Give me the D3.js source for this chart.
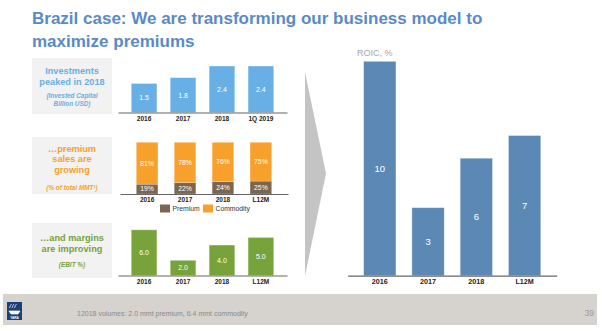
<!DOCTYPE html>
<html>
<head>
<meta charset="utf-8">
<script src="https://cdn.jsdelivr.net/npm/d3@7"></script>
<style>
  body { margin: 0; background: #fff; }
  svg { display: block; font-family: "Liberation Sans", Arial, sans-serif; }
</style>
</head>
<body>
<div id="chart"></div>
<script>
// data
const investYears = ["2016", "2017", "2018", "1Q 2019"];
const investValues = [1.5, 1.8, 2.4, 2.4];

const salesYears = ["2016", "2017", "2018", "L12M"];
const premiumShare = [19, 22, 24, 25];
const commodityShare = [81, 78, 76, 75];

const ebitYears = ["2016", "2017", "2018", "L12M"];
const ebitValues = [6.0, 2.0, 4.0, 5.0];

const roicYears = ["2016", "2017", "2018", "L12M"];
const roicValues = [10.4, 3.3, 5.7, 6.8];

const blue = "#67afe5", orange = "#f8a02c", brown = "#7b6751",
      green = "#77a33a", steel = "#5b88b4", titleBlue = "#5a8ac6";

var svg = d3.select("#chart").append("svg")
    .attr("width", 602)
    .attr("height", 331);

// title
var title = svg.append("text")
    .attr("x", 32)
    .attr("font-size", 17)
    .attr("font-weight", "bold")
    .attr("fill", titleBlue);
title.append("tspan").attr("x", 32).attr("y", 24)
    .text("Brazil case: We are transforming our business model to");
title.append("tspan").attr("x", 32).attr("y", 47)
    .text("maximize premiums");

// grey side boxes with the messages
function sideBox(y0, y1, color, lines, notes, lineYs, noteYs) {
    svg.append("rect")
        .attr("x", 32).attr("y", y0)
        .attr("width", 80).attr("height", y1 - y0)
        .attr("fill", "#f2f2f2");
    lines.forEach(function (t, i) {
        svg.append("text")
            .attr("x", 72).attr("y", lineYs[i])
            .attr("text-anchor", "middle")
            .attr("font-size", 9.2)
            .attr("font-weight", "bold")
            .attr("fill", color)
            .text(t);
    });
    notes.forEach(function (t, i) {
        svg.append("text")
            .attr("x", 72).attr("y", noteYs[i])
            .attr("text-anchor", "middle")
            .attr("font-size", 6.4)
            .attr("font-weight", "bold")
            .attr("font-style", "italic")
            .attr("fill", color)
            .text(t);
    });
}

sideBox(58, 114, blue, ["Investments", "peaked in 2018"],
    ["(Invested Capital", "Billion USD)"], [73.5, 84.5], [98, 105.6]);
sideBox(137, 194, orange, ["\u2026premium", "sales are", "growing"],
    ["(% of total MMT\u00b9)"], [151.5, 162.2, 172.6], [190]);
sideBox(223, 278, green, ["\u2026and margins", "are improving"],
    ["(EBIT %)"], [240.5, 251.9], [267.3]);

function drawAxis(g, x, baseY, fontSize) {
    var ax = g.append("g")
        .attr("transform", "translate(0," + baseY + ")")
        .call(d3.axisBottom(x).tickSize(0).tickSizeOuter(0).tickPadding(3.5));
    ax.select(".domain").attr("stroke", "#666").attr("stroke-width", 1.2);
    ax.selectAll("text")
        .attr("font-family", "Liberation Sans, Arial, sans-serif")
        .attr("font-size", fontSize)
        .attr("font-weight", "bold")
        .attr("fill", "#222");
}

function simpleBars(cats, vals, color, xr, yr, yMax, pad, fmt, fontSize) {
    var x = d3.scaleBand().domain(cats).range(xr).padding(pad);
    var y = d3.scaleLinear().domain([0, yMax]).range(yr);
    var g = svg.append("g");
    g.selectAll("rect.bar")
        .data(vals)
        .enter()
        .append("rect")
        .attr("class", "bar")
        .attr("x", (d, i) => x(cats[i]))
        .attr("y", d => y(d))
        .attr("width", x.bandwidth())
        .attr("height", d => y(0) - y(d))
        .attr("fill", color)
        .attr("stroke", "#fff")
        .attr("stroke-opacity", 0.45)
        .attr("stroke-width", 0.8);
    g.selectAll("text.val")
        .data(vals)
        .enter()
        .append("text")
        .attr("class", "val")
        .attr("x", (d, i) => x(cats[i]) + x.bandwidth() / 2)
        .attr("y", d => (y(d) + y(0)) / 2)
        .attr("dy", "0.35em")
        .attr("text-anchor", "middle")
        .attr("font-size", fontSize)
        .attr("fill", "#fff")
        .text(fmt);
    return {g: g, x: x, y: y};
}

// panel 1: invested capital
var p1 = simpleBars(investYears, investValues, blue, [118, 287], [112.5, 66], 2.4, 0.34,
    d => d.toFixed(1), 7);
drawAxis(p1.g, p1.x, 112.5, 6.5);

// panel 2: premium vs commodity share
{
    var x = d3.scaleBand().domain(salesYears).range([120, 288]).padding(0.43);
    var y = d3.scaleLinear().domain([0, 100]).range([194, 142.3]);
    var rows = salesYears.map((c, i) => ({cat: c, premium: premiumShare[i], commodity: commodityShare[i]}));
    var stack = d3.stack().keys(["premium", "commodity"])(rows);
    var colors = {premium: brown, commodity: orange};
    var g = svg.append("g");
    stack.forEach(function (layer) {
        g.selectAll("rect." + layer.key)
            .data(layer)
            .enter()
            .append("rect")
            .attr("x", d => x(d.data.cat))
            .attr("y", d => y(d[1]))
            .attr("width", x.bandwidth())
            .attr("height", d => y(d[0]) - y(d[1]))
            .attr("fill", colors[layer.key])
            .attr("stroke", "#fff")
            .attr("stroke-opacity", 0.35)
            .attr("stroke-width", 0.6);
        g.selectAll("text." + layer.key)
            .data(layer)
            .enter()
            .append("text")
            .attr("x", d => x(d.data.cat) + x.bandwidth() / 2)
            .attr("y", d => (y(d[0]) + y(d[1])) / 2)
            .attr("dy", "0.35em")
            .attr("text-anchor", "middle")
            .attr("font-size", 6.8)
            .attr("fill", "#fff")
            .text(d => d.data[layer.key] + "%");
    });
    drawAxis(g, x, 194, 6.5);

    // legend
    var legend = [["Premium", brown, 160], ["Commodity", orange, 203]];
    legend.forEach(function (l) {
        g.append("rect")
            .attr("x", l[2]).attr("y", 204.5)
            .attr("width", 10).attr("height", 8)
            .attr("fill", l[1]);
        g.append("text")
            .attr("x", l[2] + 12.5).attr("y", 211)
            .attr("font-size", 6.8)
            .attr("fill", "#333")
            .text(l[0]);
    });
}

// panel 3: EBIT margin
var p3 = simpleBars(ebitYears, ebitValues, green, [118, 287], [275.5, 229.8], 6, 0.34,
    d => d.toFixed(1), 7);
drawAxis(p3.g, p3.x, 275.5, 6.5);

// chevron
svg.append("polygon")
    .attr("points", "305,72 326,173.5 305,276")
    .attr("fill", "#c4c4c4");

// right panel: ROIC
svg.append("text")
    .attr("x", 357).attr("y", 55.5)
    .attr("font-size", 9)
    .attr("fill", "#a6a6a6")
    .text("ROIC, %");

var p4 = simpleBars(roicYears, roicValues, steel, [347.7, 556.7], [275.7, 61.3], 10.4, 0.33,
    d => d3.format(".0f")(d), 9.5);
drawAxis(p4.g, p4.x, 275.7, 7.2);

// footer
svg.append("rect")
    .attr("x", 3).attr("y", 294)
    .attr("width", 594).attr("height", 31)
    .attr("fill", "#d6d2ce");
svg.append("rect")
    .attr("x", 7).attr("y", 302)
    .attr("width", 15).attr("height", 18)
    .attr("fill", "#1b3f7c");
var logo = svg.append("g").attr("fill", "none").attr("stroke", "#fff").attr("stroke-width", 0.7);
[10.5, 13, 15.5].forEach(function (cx) {
    logo.append("path").attr("d", "M" + (cx - 1) + ",308 q1,-3 2,-4");
});
logo.append("path").attr("d", "M9,311 L20,311 L18,314 L11,314 Z").attr("fill", "#fff");
svg.append("text")
    .attr("x", 14.5).attr("y", 318.5)
    .attr("text-anchor", "middle")
    .attr("font-size", 3.2)
    .attr("font-weight", "bold")
    .attr("fill", "#fff")
    .text("YARA");
svg.append("text")
    .attr("x", 77).attr("y", 315.5)
    .attr("font-size", 7)
    .attr("fill", "#8a8a8a")
    .text("12018 volumes: 2.0 mmt premium, 6.4 mmt commodity");
svg.append("text")
    .attr("x", 594).attr("y", 316)
    .attr("text-anchor", "end")
    .attr("font-size", 8.5)
    .attr("fill", "#9a9a9a")
    .text("39");
</script>
</body>
</html>
